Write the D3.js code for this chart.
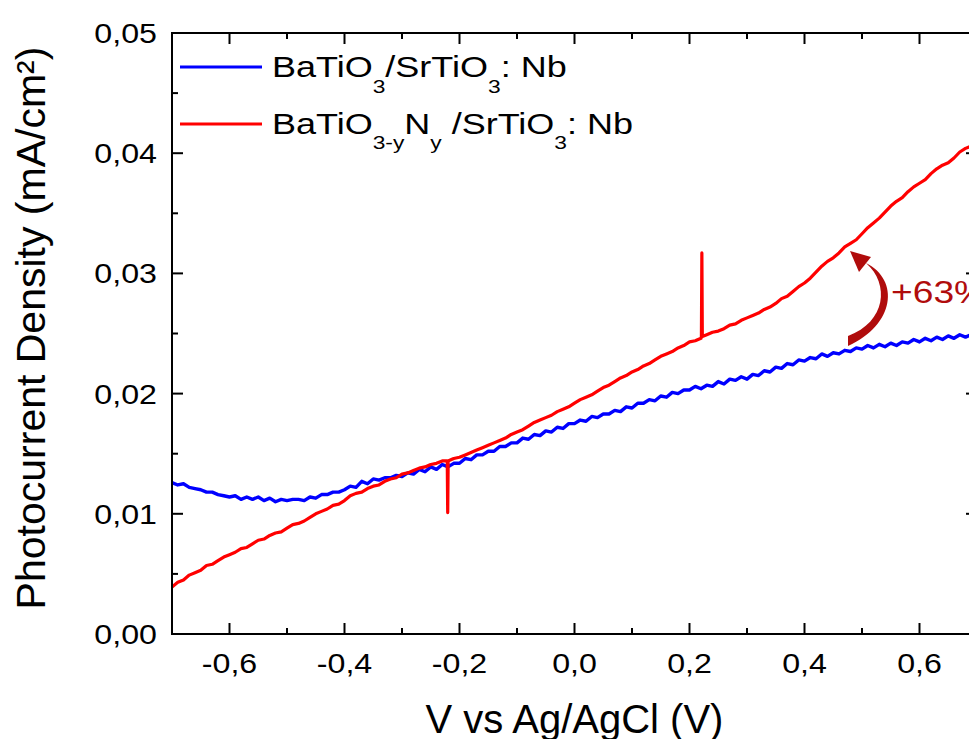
<!DOCTYPE html>
<html><head><meta charset="utf-8">
<script src="https://cdn.jsdelivr.net/npm/d3@7/dist/d3.min.js"></script>
<style>html,body{margin:0;padding:0;background:#fff;} svg{display:block;}</style>
</head><body>
<svg id="chart" width="969" height="739"></svg>
<script>
// ---------------- DATA ----------------
const seriesNames = ["BaTiO3/SrTiO3: Nb", "BaTiO3-yNy /SrTiO3: Nb"];
const xTicks = [-0.6, -0.4, -0.2, 0.0, 0.2, 0.4, 0.6];
const yTicks = [0.00, 0.01, 0.02, 0.03, 0.04, 0.05];
// voltage grid (V vs Ag/AgCl), 0.01 V step from -0.70 to 0.70
const voltages = d3.range(141).map(i => Math.round((-0.70 + i * 0.01) * 100) / 100);
// BaTiO3/SrTiO3:Nb photocurrent (mA/cm2)
const blueJ = [
 .0126,.0124,.0125,.0122,.0121,.0120,.0118,.0118,.0116,.0115,
 .0114,.0115,.0112,.0114,.0112,.0114,.0111,.0113,.0110,.0112,
 .0111,.0112,.0112,.0111,.0114,.0113,.0116,.0116,.0118,.0118,
 .0120,.0123,.0122,.0127,.0125,.0129,.0128,.0130,.0130,.0132,
 .0131,.0134,.0133,.0137,.0135,.0139,.0137,.0141,.0139,.0142,
 .0142,.0146,.0145,.0149,.0149,.0152,.0152,.0156,.0156,.0159,
 .0159,.0163,.0162,.0166,.0165,.0169,.0168,.0172,.0171,.0175,
 .0175,.0178,.0177,.0181,.0180,.0183,.0183,.0186,.0185,.0189,
 .0188,.0192,.0192,.0195,.0194,.0198,.0197,.0201,.0200,.0203,
 .0203,.0206,.0204,.0207,.0206,.0210,.0208,.0212,.0211,.0214,
 .0212,.0216,.0215,.0219,.0218,.0222,.0221,.0225,.0224,.0228,
 .0227,.0230,.0229,.0233,.0231,.0234,.0233,.0236,.0235,.0238,
 .0237,.0240,.0238,.0241,.0239,.0242,.0240,.0243,.0242,.0245,
 .0243,.0246,.0244,.0247,.0245,.0248,.0246,.0249,.0247,.0249,
 .0248
];
// BaTiO3-yNy/SrTiO3:Nb photocurrent (mA/cm2)
const redJ = [
 .0039,.0043,.0045,.0049,.0051,.0053,.0057,.0058,.0061,.0064,
 .0066,.0068,.0071,.0072,.0075,.0078,.0079,.0082,.0084,.0085,
 .0088,.0091,.0092,.0094,.0097,.0100,.0102,.0104,.0107,.0108,
 .0111,.0115,.0117,.0118,.0121,.0123,.0124,.0127,.0129,.0130,
 .0133,.0134,.0136,.0138,.0139,.0141,.0142,.0144,.0144,.0146,
 .0147,.0149,.0151,.0153,.0155,.0157,.0159,.0161,.0163,.0166,
 .0168,.0170,.0173,.0176,.0178,.0180,.0182,.0185,.0187,.0189,
 .0192,.0195,.0197,.0199,.0202,.0205,.0207,.0210,.0213,.0215,
 .0218,.0220,.0223,.0225,.0228,.0231,.0233,.0235,.0238,.0240,
 .0243,.0244,.0246,.0249,.0251,.0252,.0254,.0257,.0258,.0261,
 .0263,.0265,.0267,.0270,.0272,.0275,.0279,.0281,.0285,.0289,
 .0292,.0296,.0301,.0306,.0310,.0313,.0317,.0322,.0325,.0328,
 .0333,.0338,.0342,.0346,.0351,.0356,.0360,.0363,.0368,.0372,
 .0375,.0378,.0383,.0387,.0390,.0392,.0396,.0401,.0404,.0406,
 .0408
];
// measurement glitches in the red trace
const redSpikeV = [-0.2205, 0.2215];
const redSpikeJ = [0.0101, 0.0317];
const annotationText = "+63%";

// ---------------- LAYOUT ----------------
const svg = d3.select("#chart");
const mLeft = 172, mRight = 977, mTop = 33, mBottom = 634;
const x = d3.scaleLinear().domain([-0.7, 0.7]).range([mLeft, mRight]);
const y = d3.scaleLinear().domain([0, 0.05]).range([mBottom, mTop]);
const loc = d3.formatLocale({decimal: ",", thousands: ".", grouping: [3], currency: ["", ""], minus: "-"});
const fx = loc.format(".1f"), fy = loc.format(".2f");
const font = "'Liberation Sans', Arial, Helvetica, sans-serif";

svg.append("defs").append("clipPath").attr("id", "clip")
  .append("rect").attr("x", mLeft).attr("y", mTop).attr("width", mRight - mLeft).attr("height", mBottom - mTop);

// data lines
const bluePts = voltages.map((v, i) => [v, blueJ[i]]);
let redPts = voltages.map((v, i) => [v, redJ[i]]);
redSpikeV.forEach((v, k) => {
  const idx = redPts.findIndex(p => p[0] > v);
  const base = (redPts[idx - 1][1] + redPts[idx][1]) / 2;
  redPts.splice(idx, 0, [v - 0.0008, base], [v, redSpikeJ[k]], [v + 0.0008, base]);
});
const line = d3.line().x(d => x(d[0])).y(d => y(d[1]));
const g = svg.append("g").attr("clip-path", "url(#clip)");
g.append("path").datum(bluePts).attr("d", line).attr("fill", "none")
  .attr("stroke", "#0000ff").attr("stroke-width", 3.4).attr("stroke-linejoin", "round");
g.append("path").datum(redPts).attr("d", line).attr("fill", "none")
  .attr("stroke", "#ff0000").attr("stroke-width", 3.2).attr("stroke-linejoin", "round");

// axes (box with inward ticks)
const xMinor = d3.range(-7, 8).map(i => i / 10);
const yMinor = d3.range(0, 11).map(i => i * 0.005);
const axG = svg.append("g").attr("stroke", "#000");
axG.append("rect").attr("x", mLeft).attr("y", mTop).attr("width", mRight - mLeft).attr("height", mBottom - mTop)
  .attr("fill", "none").attr("stroke-width", 2);
function isMajorX(v) { return xTicks.some(t => Math.abs(t - v) < 1e-6); }
function isMajorY(v) { return yTicks.some(t => Math.abs(t - v) < 1e-6); }
xMinor.forEach(v => {
  const L = isMajorX(v) ? 11 : 6;
  axG.append("line").attr("x1", x(v)).attr("x2", x(v)).attr("y1", mBottom).attr("y2", mBottom - L).attr("stroke-width", 2);
  axG.append("line").attr("x1", x(v)).attr("x2", x(v)).attr("y1", mTop).attr("y2", mTop + L).attr("stroke-width", 2);
});
yMinor.forEach(v => {
  const L = isMajorY(v) ? 11 : 6;
  axG.append("line").attr("x1", mLeft).attr("x2", mLeft + L).attr("y1", y(v)).attr("y2", y(v)).attr("stroke-width", 2);
  axG.append("line").attr("x1", mRight).attr("x2", mRight - L).attr("y1", y(v)).attr("y2", y(v)).attr("stroke-width", 2);
});

// tick labels
xTicks.forEach(v => {
  svg.append("text").attr("transform", `translate(${x(v)},673) scale(1.13,1)`)
    .attr("text-anchor", "middle").attr("font-family", font).attr("font-size", 28.5).attr("fill", "#000")
    .text(fx(v));
});
yTicks.forEach(v => {
  svg.append("text").attr("transform", `translate(157,${y(v) + 10}) scale(1.13,1)`)
    .attr("text-anchor", "end").attr("font-family", font).attr("font-size", 28.5).attr("fill", "#000")
    .text(fy(v));
});

// axis titles
svg.append("text").attr("x", (mLeft + mRight) / 2).attr("y", 733).attr("text-anchor", "middle")
  .attr("font-family", font).attr("font-size", 40).text("V vs Ag/AgCl (V)");
svg.append("text").attr("transform", "translate(45,328) rotate(-90)").attr("text-anchor", "middle")
  .attr("font-family", font).attr("font-size", 41).text("Photocurrent Density (mA/cm²)");

// legend
const legColors = ["#0000ff", "#ff0000"];
const legY = [67, 124];
legY.forEach((ly, i) => {
  svg.append("line").attr("x1", 180).attr("x2", 262).attr("y1", ly).attr("y2", ly)
    .attr("stroke", legColors[i]).attr("stroke-width", 3);
});
function legendText(yb, parts) {
  const t = svg.append("text").attr("transform", `translate(272,${yb}) scale(1.2,1)`)
    .attr("font-family", font).attr("font-size", 30).attr("fill", "#000");
  parts.forEach(p => {
    t.append("tspan").attr("font-size", p.sub ? 19 : 30).attr("dy", p.dy).text(p.s);
  });
}
legendText(77, [
  {s: "BaTiO", dy: 0}, {s: "3", sub: true, dy: 16}, {s: "/SrTiO", dy: -16},
  {s: "3", sub: true, dy: 16}, {s: ": Nb", dy: -16}
]);
legendText(134, [
  {s: "BaTiO", dy: 0}, {s: "3-y", sub: true, dy: 15}, {s: "N", dy: -15},
  {s: "y", sub: true, dy: 15}, {s: " /SrTiO", dy: -15}, {s: "3", sub: true, dy: 15}, {s: ": Nb", dy: -15}
]);

// +63% annotation with curved arrow
const ann = svg.append("g").attr("fill", "#b00c0c");
ann.append("path").attr("d",
  "M848,346 C895,325 900,280 866,263 C890,284 886,322 848,336 Z");
ann.append("path").attr("d", "M850,251 L871,257 L859,272 Z");
ann.append("text").attr("transform", "translate(891,303) scale(1.2,1)")
  .attr("font-family", font).attr("font-size", 31).text(annotationText);
</script>
</body></html>
